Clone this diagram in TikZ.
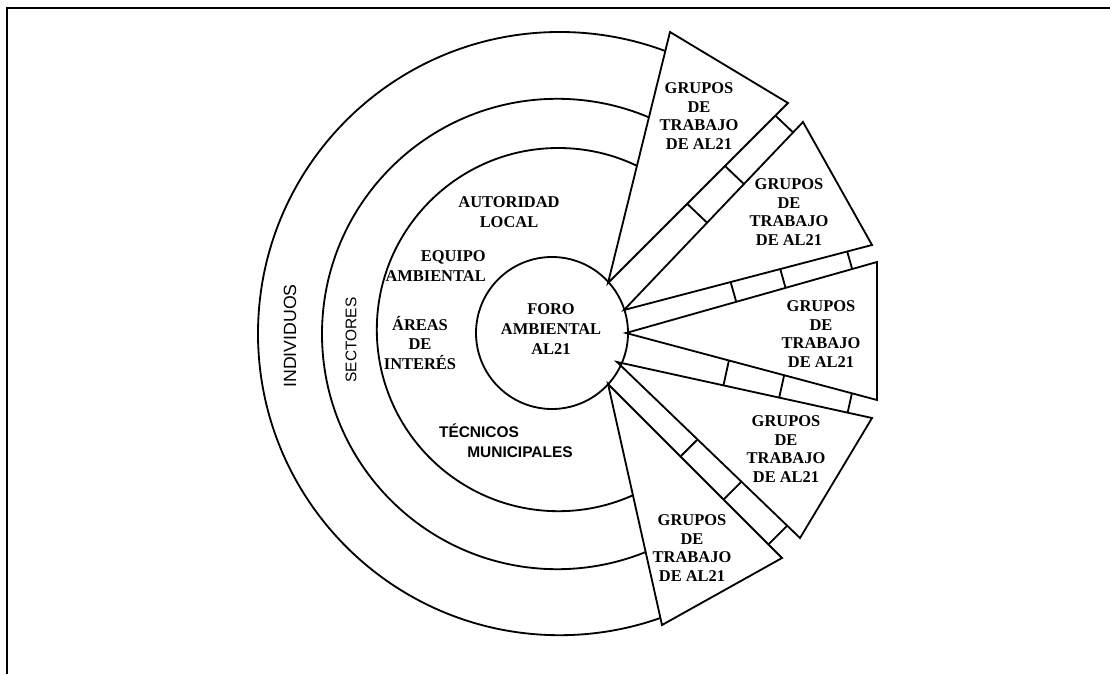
\documentclass[tikz,border=0pt]{standalone}
\usepackage{fontspec}
\setmainfont{Liberation Serif}
\setsansfont{Liberation Sans}
\usetikzlibrary{calc}
\usetikzlibrary{positioning}

\begin{document}
\begin{tikzpicture}[
  linea/.style={line width=1.3pt},
  grupo/.style={font=\fontsize{11.7}{13.2}\selectfont\bfseries, align=center, inner sep=0pt},
  anillo/.style={font=\fontsize{11.7}{14}\selectfont\bfseries, align=center, inner sep=0pt},
  tecnico/.style={font=\fontsize{11}{13}\selectfont\sffamily\bfseries, inner sep=0pt}]
\useasboundingbox (0,0) rectangle (27.75,16.85);
\draw[line width=0.9pt] (0.175,0) -- (0.175,16.65) -- (27.75,16.65);

% anillos exteriores
\begin{scope}
\clip (0,16.85) -- (16.95,16.85) -- (15.2,9.775) -- (15.2,7.25) -- (16.825,0) -- (0,0) -- cycle;
\draw[linea] (13.99,8.51) circle (7.54);
\draw[linea] (13.93,8.5) circle (5.88);
\draw[linea] (13.96,8.61) circle (4.54);
\end{scope}
\draw[linea] (13.8,8.525) circle (1.9);

% triangulos
\coordinate (A1) at (15.2,9.775);
\coordinate (P1) at (16.75,16.05);
\coordinate (Q1) at (19.7,14.275);
\coordinate (A2) at (15.6,9.1);
\coordinate (P2) at (20.075,13.8);
\coordinate (Q2) at (21.8,10.725);
\coordinate (A3) at (15.65,8.525);
\coordinate (P3) at (21.925,10.3);
\coordinate (Q3) at (21.925,6.85);
\coordinate (A4) at (15.425,7.8);
\coordinate (P4) at (21.8,6.4);
\coordinate (Q4) at (20.0,3.4);
\coordinate (A5) at (15.2,7.25);
\coordinate (P5) at (19.55,2.9);
\coordinate (Q5) at (16.55,1.225);
\draw[linea] (A1) -- (P1) -- (Q1) -- cycle;
\draw[linea] (A2) -- (P2) -- (Q2) -- cycle;
\draw[linea] (A3) -- (P3) -- (Q3) -- cycle;
\draw[linea] (A4) -- (P4) -- (Q4) -- cycle;
\draw[linea] (A5) -- (P5) -- (Q5) -- cycle;

% separadores
\draw[linea] ($(A1)!0.44!(Q1)$) coordinate (s1) -- ($(A2)!(s1)!(P2)$);
\draw[linea] ($(A1)!0.65!(Q1)$) coordinate (s2) -- ($(A2)!(s2)!(P2)$);
\draw[linea] ($(A1)!0.93!(Q1)$) coordinate (s3) -- ($(A2)!(s3)!(P2)$);
\draw[linea] ($(A2)!0.43!(Q2)$) coordinate (s4) -- ($(A3)!(s4)!(P3)$);
\draw[linea] ($(A2)!0.63!(Q2)$) coordinate (s5) -- ($(A3)!(s5)!(P3)$);
\draw[linea] ($(A2)!0.90!(Q2)$) coordinate (s6) -- ($(A3)!(s6)!(P3)$);
\draw[linea] ($(A3)!0.41!(Q3)$) coordinate (s7) -- ($(A4)!(s7)!(P4)$);
\draw[linea] ($(A3)!0.63!(Q3)$) coordinate (s8) -- ($(A4)!(s8)!(P4)$);
\draw[linea] ($(A3)!0.90!(Q3)$) coordinate (s9) -- ($(A4)!(s9)!(P4)$);
\draw[linea] ($(A4)!0.44!(Q4)$) coordinate (s10) -- ($(A5)!(s10)!(P5)$);
\draw[linea] ($(A4)!0.68!(Q4)$) coordinate (s11) -- ($(A5)!(s11)!(P5)$);
\draw[linea] ($(A4)!0.93!(Q4)$) coordinate (s12) -- ($(A5)!(s12)!(P5)$);

\node[grupo] (grupos1) at (17.475,13.95) {GRUPOS\\DE\\TRABAJO\\DE AL21};
\node[grupo] (grupos2) at (19.725,11.55) {GRUPOS\\DE\\TRABAJO\\DE AL21};
\node[grupo] (grupos3) at (20.525,8.5) {GRUPOS\\DE\\TRABAJO\\DE AL21};
\node[grupo] (grupos4) at (19.65,5.625) {GRUPOS\\DE\\TRABAJO\\DE AL21};
\node[grupo] (grupos5) at (17.3,3.15) {GRUPOS\\DE\\TRABAJO\\DE AL21};

\node[anillo] (foro) at (13.775,8.625) {FORO\\AMBIENTAL\\AL21};
\node[anillo] (autoridad) at (12.725,11.55) {AUTORIDAD\\LOCAL};
\node[anillo, align=right, anchor=east] (equipo) at (12.15,10.2) {EQUIPO\\AMBIENTAL};
\node[anillo] (areas) at (10.5,8.275) {ÁREAS\\DE\\INTERÉS};
\node[tecnico] (tecnicos) at (11.975,6.075) {TÉCNICOS};
\node[tecnico] (municipales) at (13.0,5.55) {MUNICIPALES};

\node[font=\fontsize{12.6}{14}\selectfont\sffamily, rotate=90] (individuos) at (7.25,8.45) {INDIVIDUOS};
\node[font=\fontsize{11}{13}\selectfont\sffamily, rotate=90] (sectores) at (8.775,8.35) {SECTORES};

\end{tikzpicture}
\end{document}
